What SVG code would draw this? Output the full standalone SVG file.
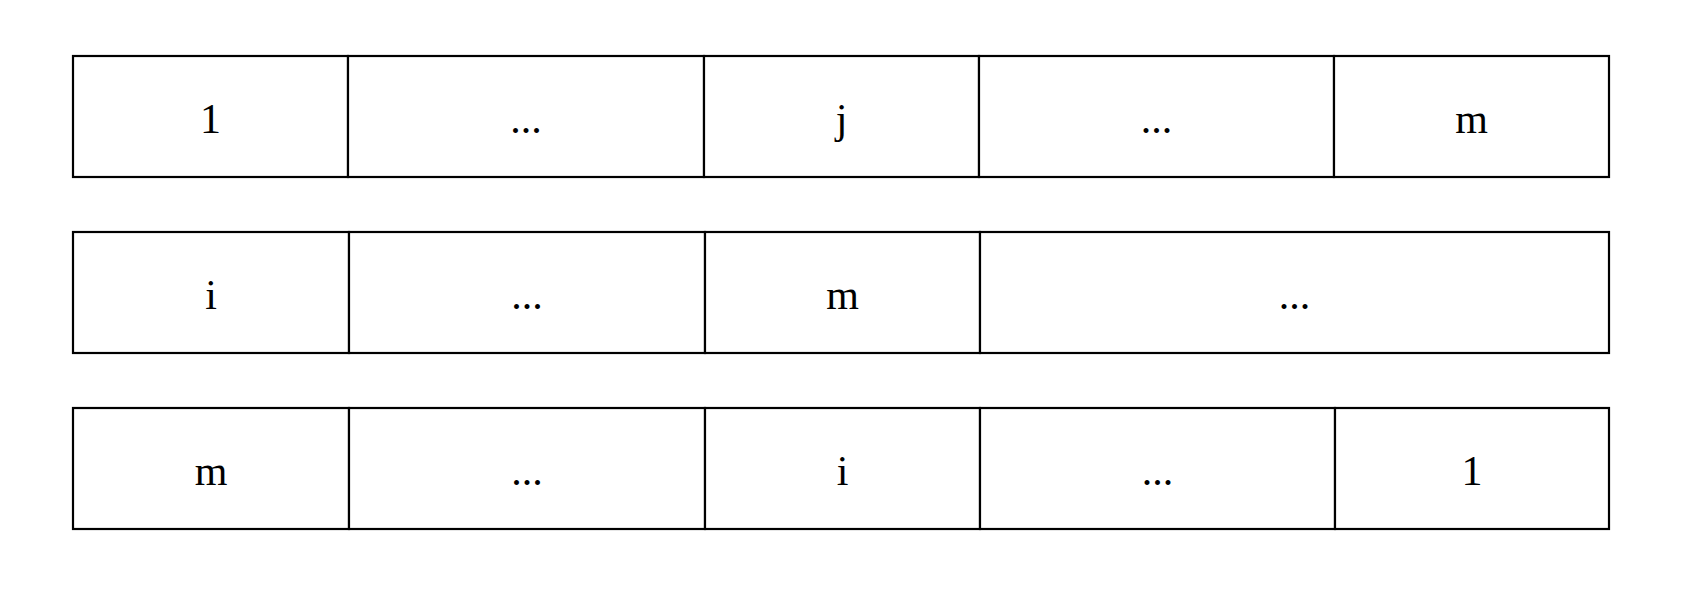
<svg xmlns="http://www.w3.org/2000/svg" width="1691" height="607" viewBox="0 0 1691 607">
<style>
.c{fill:#fff;stroke:#000;stroke-width:2.2}
.t{font-family:"Liberation Serif","Times New Roman",serif;font-size:42px;fill:#000;text-anchor:middle}
</style>
<rect width="1691" height="607" fill="#fff"/>
<g id="row1">
<g id="r1c1"><rect class="c" x="73" y="56" width="275" height="121"/><text class="t" x="210.5" y="133">1</text></g>
<g id="r1c2"><rect class="c" x="348" y="56" width="356" height="121"/><text class="t" x="526" y="133">...</text></g>
<g id="r1c3"><rect class="c" x="704" y="56" width="275" height="121"/><text class="t" x="841.5" y="133">j</text></g>
<g id="r1c4"><rect class="c" x="979" y="56" width="355" height="121"/><text class="t" x="1156.5" y="133">...</text></g>
<g id="r1c5"><rect class="c" x="1334" y="56" width="275" height="121"/><text class="t" x="1471.5" y="133">m</text></g>
</g>
<g id="row2">
<g id="r2c1"><rect class="c" x="73" y="232" width="276" height="121"/><text class="t" x="211" y="309">i</text></g>
<g id="r2c2"><rect class="c" x="349" y="232" width="356" height="121"/><text class="t" x="527" y="309">...</text></g>
<g id="r2c3"><rect class="c" x="705" y="232" width="275" height="121"/><text class="t" x="842.5" y="309">m</text></g>
<g id="r2c4"><rect class="c" x="980" y="232" width="629" height="121"/><text class="t" x="1294.5" y="309">...</text></g>
</g>
<g id="row3">
<g id="r3c1"><rect class="c" x="73" y="408" width="276" height="121"/><text class="t" x="211" y="485">m</text></g>
<g id="r3c2"><rect class="c" x="349" y="408" width="356" height="121"/><text class="t" x="527" y="485">...</text></g>
<g id="r3c3"><rect class="c" x="705" y="408" width="275" height="121"/><text class="t" x="842.5" y="485">i</text></g>
<g id="r3c4"><rect class="c" x="980" y="408" width="355" height="121"/><text class="t" x="1157.5" y="485">...</text></g>
<g id="r3c5"><rect class="c" x="1335" y="408" width="274" height="121"/><text class="t" x="1472" y="485">1</text></g>
</g>
<g id="connectors"></g>
</svg>
